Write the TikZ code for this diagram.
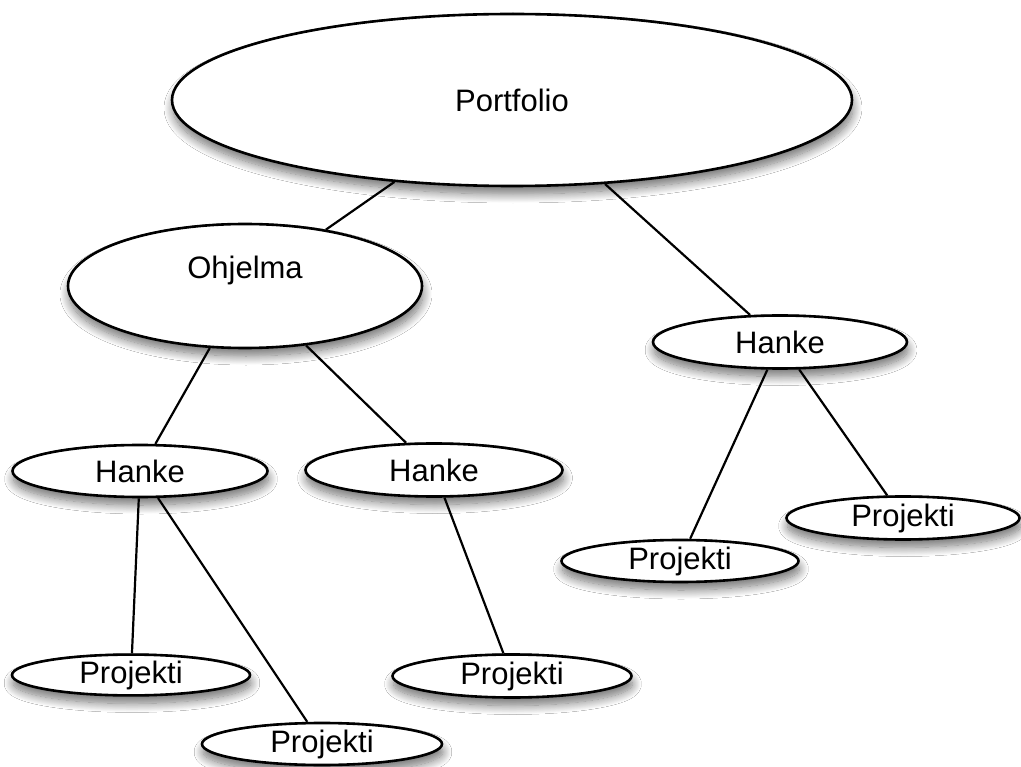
\documentclass[tikz,border=0pt]{standalone}
\usepackage{fontspec}
\setmainfont{Liberation Sans}
\usetikzlibrary{shapes.geometric,shadows.blur}

\tikzset{
  bubble/.style={ellipse, draw=black, line width=2.6pt, fill=white, inner sep=0pt,
    font=\fontsize{31}{37}\selectfont,
    blur shadow={shadow xshift=1pt, shadow yshift=-8pt, shadow blur radius=9pt,
                 shadow blur steps=14, shadow opacity=55}},
  link/.style={draw=black, line width=2.2pt}
}

\begin{document}
\begin{tikzpicture}[x=1pt, y=-1pt]
  % canvas
  \fill[white] (0,0) rectangle (1021,767);
  \useasboundingbox (0,0) rectangle (1021,767);

  % hierarchy levels
  \node[bubble, minimum width=680pt, minimum height=172pt] (portfolio) at (512,100) {Portfolio};
  \node[bubble, minimum width=354pt, minimum height=124pt,
        label={[font=\fontsize{31}{37}\selectfont, yshift=16pt]center:Ohjelma}] (ohjelma) at (245,286) {};
  \node[bubble, minimum width=254pt, minimum height=53pt] (hankeR) at (780,342) {Hanke};
  \node[bubble, minimum width=255pt, minimum height=52pt] (hankeA) at (140,471) {Hanke};
  \node[bubble, minimum width=257pt, minimum height=53pt] (hankeB) at (434,470) {Hanke};

  \node[bubble, minimum width=233pt, minimum height=43pt] (projR1) at (903,518) {Projekti};
  \node[bubble, minimum width=237pt, minimum height=42pt] (projR2) at (680,561) {Projekti};
  \node[bubble, minimum width=238pt, minimum height=40pt] (projA1) at (131,675) {Projekti};
  \node[bubble, minimum width=240pt, minimum height=42pt] (projA2) at (322,744) {Projekti};
  \node[bubble, minimum width=239pt, minimum height=43pt] (projB)  at (512,676) {Projekti};

  % connectors
  \draw[link] (portfolio) -- (ohjelma);
  \draw[link] (portfolio) -- (hankeR);
  \draw[link] (ohjelma) -- (hankeA);
  \draw[link] (ohjelma) -- (hankeB);
  \draw[link] (hankeR) -- (projR2);
  \draw[link] (hankeR) -- (projR1);
  \draw[link] (hankeA) -- (projA1);
  \draw[link] (hankeA) -- (projA2);
  \draw[link] (hankeB) -- (projB);
\end{tikzpicture}
\end{document}
